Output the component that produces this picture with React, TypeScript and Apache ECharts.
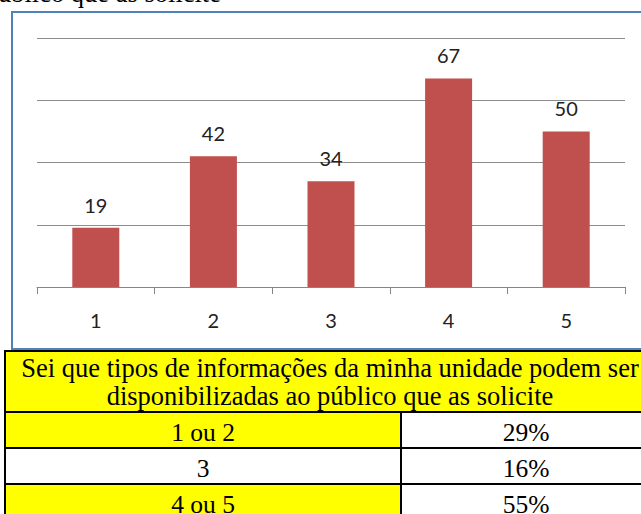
import React, { useEffect, useRef } from "react";
import * as echarts from "echarts";

const categories = ["1", "2", "3", "4", "5"];
const values = [19, 42, 34, 67, 50];

const tableTitle = [
  "Sei que tipos de informações da minha unidade podem ser",
  "disponibilizadas ao público que as solicite",
];
const rowLabels = ["1 ou 2", "3", "4 ou 5"];
const rowPercents = ["29%", "16%", "55%"];
const rowHighlight = [true, false, true];
const topCutText = "disponibilizadas ao público que as solicite";

export default function App() {
  const ref = useRef<HTMLDivElement>(null);
  useEffect(() => {
    const chart = echarts.init(ref.current!, null, { renderer: "svg" });
    const headFont = '26.5px "Liberation Serif", "Times New Roman", serif';
    const rowFont = '25.5px "Liberation Serif", "Times New Roman", serif';
    const tblL = 5, tblR = 655, colX = 401;
    const headTop = 351, headBot = 412;
    const rowH = 36;
    const graphics: any[] = [];
    // top cut text
    graphics.push({
      type: "text", z: 100,
      style: { text: topCutText, x: 221, y: -7, font: headFont, fill: "#000", textAlign: "right", textVerticalAlign: "middle" },
    });
    // chart border
    graphics.push({
      type: "rect", z: 1, silent: true,
      shape: { x: 12, y: 12, width: 660, height: 337 },
      style: { fill: "none", stroke: "#4F81BD", lineWidth: 2 },
    });
    // table header
    graphics.push({
      type: "rect", z: 100,
      shape: { x: tblL, y: headTop, width: tblR - tblL, height: headBot - headTop },
      style: { fill: "#FFFF00", stroke: "#000", lineWidth: 2 },
    });
    tableTitle.forEach((t, i) => {
      graphics.push({
        type: "text", z: 101,
        style: { text: t, x: 330, y: 368 + i * 28, font: headFont, fill: "#000", textAlign: "center", textVerticalAlign: "middle" },
      });
    });
    rowLabels.forEach((lab, i) => {
      const y = headBot + i * rowH;
      graphics.push({
        type: "rect", z: 100,
        shape: { x: tblL, y, width: colX - tblL, height: rowH },
        style: { fill: rowHighlight[i] ? "#FFFF00" : "#FFFFFF", stroke: "#000", lineWidth: 2 },
      });
      graphics.push({
        type: "rect", z: 100,
        shape: { x: colX, y, width: tblR - colX, height: rowH },
        style: { fill: "#FFFFFF", stroke: "#000", lineWidth: 2 },
      });
      graphics.push({
        type: "text", z: 101,
        style: { text: lab, x: 203, y: y + 20.5, font: rowFont, fill: "#000", textAlign: "center", textVerticalAlign: "middle" },
      });
      graphics.push({
        type: "text", z: 101,
        style: { text: rowPercents[i], x: 526, y: y + 20.5, font: rowFont, fill: "#000", textAlign: "center", textVerticalAlign: "middle" },
      });
    });

    chart.setOption({
      animation: false,
      backgroundColor: "#fff",
      grid: { left: 37, right: 16, top: 38, bottom: 227 },
      xAxis: {
        type: "category",
        data: categories,
        axisLine: { lineStyle: { color: "#868686", width: 1 } },
        axisTick: { show: true, length: 7, lineStyle: { color: "#868686" } },
        axisLabel: { color: "#222", fontFamily: "Lato", fontSize: 20, margin: 23 },
      },
      yAxis: {
        type: "value",
        min: 0, max: 80, interval: 20,
        axisLabel: { show: false },
        axisLine: { show: false },
        axisTick: { show: false },
        splitLine: { lineStyle: { color: "#8c8c8c", width: 1 } },
      },
      series: [
        {
          type: "bar",
          data: values,
          barWidth: 47,
          itemStyle: { color: "#C0504D" },
          label: { show: true, position: "top", distance: 13, color: "#222", fontFamily: "Lato", fontSize: 20 },
        },
      ],
      graphic: graphics,
    });
    return () => chart.dispose();
  }, []);
  return (
    <div
      ref={ref}
      style={{ position: "fixed", left: 0, top: 0, width: 641, height: 514 }}
    />
  );
}
